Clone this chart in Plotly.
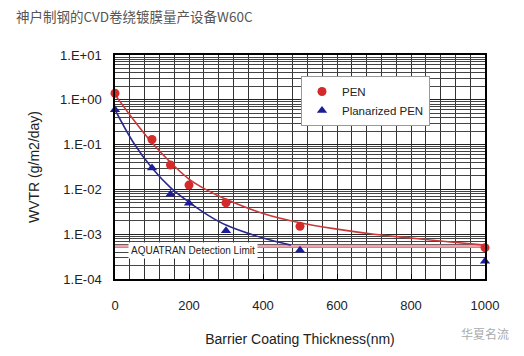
import plotly.graph_objects as go

# ---- data ----
thickness = [0, 100, 150, 200, 300, 500, 1000]
pen_wvtr = [1.4, 0.13, 0.035, 0.0125, 0.005, 0.0015, 0.0005]
plan_wvtr = [0.6, 0.03, 0.0078, 0.0049, 0.0012, 0.00044, 0.00025]

pen_fit_x = [0, 50, 100, 150, 200, 250, 300, 400, 500, 600, 700, 800, 900, 1000]
pen_fit_y = [1.3, 0.36, 0.11, 0.04, 0.017, 0.0095, 0.006, 0.0029, 0.0018, 0.0013, 0.001, 0.00082, 0.00068, 0.00057]
plan_fit_x = [0, 50, 100, 150, 200, 250, 300, 400, 475]
plan_fit_y = [0.6, 0.11, 0.03, 0.011, 0.0052, 0.0027, 0.0016, 0.00082, 0.00057]

limit_x = [0, 1000]
limit_y = [0.00054, 0.00054]

y_tickvals = [1e1, 1e0, 1e-1, 1e-2, 1e-3, 1e-4]
y_ticktext = ["1.E+01", "1.E+00", "1.E-01", "1.E-02", "1.E-03", "1.E-04"]

FONT = "Arial, Liberation Sans, sans-serif"
RED = "#d42a2a"
BLUE = "#1c1c96"

W, H = 524, 356
L, R, T, B = 115, 39, 55, 77
PW, PH = W - L - R, H - T - B


def px2paper(px, py):
    return (px - L) / PW, (H - B - py) / PH


fig = go.Figure()
fig.add_trace(go.Scatter(x=limit_x, y=limit_y, mode="lines",
                         line=dict(color="#f2a2aa", width=3), showlegend=False, hoverinfo="skip"))
fig.add_trace(go.Scatter(x=pen_fit_x, y=pen_fit_y, mode="lines", line_shape="spline",
                         line=dict(color="#c83a3a", width=1.6), showlegend=False))
fig.add_trace(go.Scatter(x=plan_fit_x, y=plan_fit_y, mode="lines", line_shape="spline",
                         line=dict(color="#2a2a8c", width=1.6), showlegend=False))
fig.add_trace(go.Scatter(x=thickness, y=pen_wvtr, mode="markers", name="PEN",
                         marker=dict(symbol="circle", size=9, color=RED), cliponaxis=False))
fig.add_trace(go.Scatter(x=thickness, y=plan_wvtr, mode="markers", name="Planarized PEN",
                         marker=dict(symbol="triangle-up", size=9, color=BLUE), cliponaxis=False))

lx, ly = px2paper(301, 76)
fig.update_layout(
    width=W, height=H,
    margin=dict(l=L, r=R, t=T, b=B),
    paper_bgcolor="white", plot_bgcolor="white",
    font=dict(family=FONT, color="#222", size=13),
    showlegend=True,
    legend=dict(x=lx, y=ly, xanchor="left", yanchor="top",
                bgcolor="white", bordercolor="#999", borderwidth=1,
                font=dict(size=11.5, color="#222"), itemwidth=30,
                tracegroupgap=4),
    xaxis=dict(range=[0, 1000], tickvals=[0, 200, 400, 600, 800, 1000],
               showgrid=False, zeroline=False, automargin=False,
               ticks="inside", ticklen=5, tickcolor="black",
               showline=True, linecolor="black", linewidth=1.5, mirror=True,
               minor=dict(dtick=40, showgrid=True, gridcolor="#333", gridwidth=1),
               title=dict(text="Barrier Coating Thickness(nm)", font=dict(size=14), standoff=22),
               tickfont=dict(size=13), ticklabelstandoff=14),
    yaxis=dict(type="log", range=[-4, 1], tickvals=y_tickvals, ticktext=y_ticktext,
               showgrid=True, gridcolor="#222", gridwidth=1, zeroline=False, automargin=False,
               showline=True, linecolor="black", linewidth=1.5, mirror=True,
               minor=dict(dtick="D1", showgrid=True, gridcolor="#444", gridwidth=1),
               title=dict(text="WVTR (g/m2/day)", font=dict(size=14), standoff=17),
               tickfont=dict(size=13), ticklabelstandoff=9),
)

fig.add_annotation(x=35, y=-3.27, xref="x", yref="y", text="AQUATRAN Detection Limit",
                   showarrow=False, xanchor="left", yanchor="middle", yshift=-4,
                   bgcolor="white", font=dict(size=10, color="#222", family=FONT), borderpad=2)

tx, ty = px2paper(14, 16)
fig.add_annotation(x=tx, y=ty, xref="paper", yref="paper", xanchor="left", yanchor="middle",
                   text="神户制钢的CVD卷绕镀膜量产设备W60C", showarrow=False,
                   font=dict(size=13.5, color="#555", family="Noto Sans CJK SC"))

wx, wy = px2paper(511, 333)
fig.add_annotation(x=wx, y=wy, xref="paper", yref="paper", xanchor="right",
                   yanchor="middle", text="华夏名流", showarrow=False,
                   font=dict(size=12, color="#aaa", family="Noto Sans CJK SC"))

fig.write_html("out.html", config={"displayModeBar": False},
               post_script="document.body.style.margin='0';")
